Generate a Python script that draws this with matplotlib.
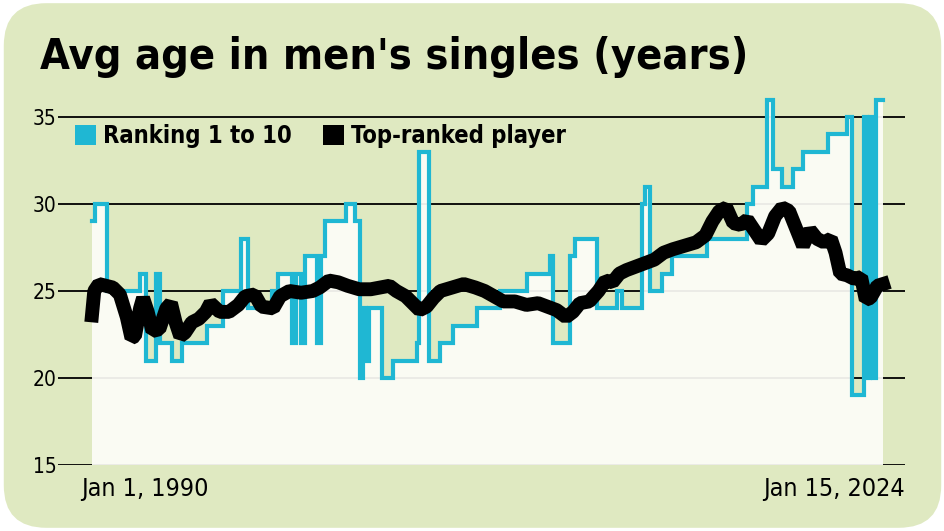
import matplotlib.pyplot as plt
from matplotlib.patches import FancyBboxPatch, Patch

# Ranking 1 to 10: average age, changes (decimal year, age) drawn as steps
top10_year = [1990.00, 1990.13, 1990.65, 1992.07, 1992.32, 1992.75, 1992.93, 1993.44,
              1993.87, 1994.95, 1995.64, 1996.41, 1996.71, 1997.75, 1998.00, 1998.61,
              1998.78, 1999.00, 1999.17, 1999.68, 1999.85, 2000.03, 2000.93, 2001.32,
              2001.53, 2001.66, 2001.79, 2001.92, 2002.48, 2002.95, 2003.98, 2004.07,
              2004.50, 2004.97, 2005.53, 2006.57, 2007.56, 2008.72, 2009.71, 2009.84,
              2010.57, 2010.78, 2011.73, 2012.59, 2012.81, 2013.67, 2013.79, 2014.01,
              2014.53, 2014.96, 2016.46, 2018.18, 2018.44, 2019.04, 2019.30, 2019.69,
              2020.16, 2020.59, 2021.67, 2022.49, 2022.70, 2023.22, 2023.35, 2023.48,
              2023.61, 2023.73, 2024.04]
top10_age = [29, 30, 25, 26, 21, 26, 22, 21,
             22, 23, 25, 28, 24, 25, 26, 22,
             26, 22, 27, 22, 27, 29, 30, 29,
             20, 24, 21, 24, 20, 21, 22, 33,
             21, 22, 23, 24, 25, 26, 27, 22,
             27, 28, 24, 25, 24, 30, 31, 25,
             26, 27, 28, 30, 31, 36, 32, 31,
             32, 33, 34, 35, 19, 35, 20, 35,
             20, 36, 36]

# Top-ranked player age
no1_year = [1990.0, 1990.1, 1990.3, 1990.6, 1990.9, 1991.2, 1991.5, 1991.7, 1991.85, 1992.07,
            1992.2, 1992.4, 1992.6, 1992.9, 1993.2, 1993.4, 1993.6, 1993.8, 1994.0, 1994.3,
            1994.6, 1994.9, 1995.1, 1995.5, 1995.9, 1996.3, 1996.6, 1997.0, 1997.3, 1997.8,
            1998.1, 1998.5, 1999.0, 1999.5, 1999.8, 2000.2, 2000.6, 2001.0, 2001.5, 2002.0,
            2002.4, 2002.8, 2003.1, 2003.5, 2003.8, 2004.1, 2004.4, 2004.7, 2005.0, 2005.5,
            2006.0, 2006.5, 2006.9, 2007.3, 2007.7, 2008.2, 2008.7, 2009.2, 2009.6, 2010.0,
            2010.4, 2010.7, 2011.0, 2011.4, 2011.8, 2012.1, 2012.4, 2012.7, 2013.0, 2013.4,
            2013.8, 2014.2, 2014.6, 2015.0, 2015.5, 2016.0, 2016.4, 2016.7, 2017.0, 2017.3,
            2017.6, 2017.9, 2018.2, 2018.5, 2018.8, 2019.1, 2019.4, 2019.7, 2020.0, 2020.3,
            2020.6, 2020.9, 2021.2, 2021.5, 2021.8, 2022.0, 2022.2, 2022.5, 2022.8, 2023.1,
            2023.3, 2023.5, 2023.8, 2024.04]
no1_age = [23.6, 25.0, 25.4, 25.3, 25.2, 24.8, 23.5, 22.3, 22.4, 24.0,
           24.6, 23.8, 22.7, 22.8, 24.0, 24.3, 23.2, 22.4, 22.6, 23.2,
           23.4, 23.8, 24.3, 23.8, 23.8, 24.2, 24.7, 24.8, 24.1, 24.0,
           24.7, 25.0, 24.9, 25.0, 25.2, 25.6, 25.5, 25.3, 25.1, 25.1,
           25.2, 25.3, 25.0, 24.7, 24.3, 23.9, 24.1, 24.6, 25.0, 25.2,
           25.4, 25.2, 25.0, 24.7, 24.4, 24.4, 24.2, 24.3, 24.1, 23.9,
           23.5, 23.8, 24.3, 24.4, 25.0, 25.6, 25.5, 26.0, 26.2, 26.4,
           26.6, 26.8, 27.2, 27.4, 27.6, 27.8, 28.2, 29.0, 29.6, 29.8,
           28.9, 28.8, 29.1, 28.5, 27.9, 28.3, 29.3, 29.8, 29.6, 28.6,
           27.6, 28.5, 28.0, 27.8, 28.0, 27.2, 26.0, 25.9, 25.7, 25.8,
           24.5, 24.6, 25.3, 25.4]

y_ticks = [15, 20, 25, 30, 35]

bg = '#dfe9c1'
cyan = '#1fb7d3'
plt.rcParams['font.family'] = ['DejaVu Sans']
plt.rcParams['font.stretch'] = 'condensed'

fig = plt.figure(figsize=(9.45, 5.31), dpi=100)
fig.patch.set_facecolor('white')
card = FancyBboxPatch((0.004, 0.006), 0.992, 0.988, boxstyle='round,pad=0,rounding_size=0.045',
                      transform=fig.transFigure, facecolor=bg, edgecolor='none',
                      mutation_aspect=945 / 531, zorder=-10)
fig.patches.append(card)

ax = fig.add_axes([0.0614, 0.1243, 0.8963, 0.7209])
ax.set_facecolor('none')
ax.set_xlim(1988.54, 2024.99)
ax.set_ylim(15, 37)

for v in y_ticks:
    ax.axhline(v, color='black', lw=1.3, zorder=1)

ax.fill_between(top10_year, top10_age, 15, step='post', color='#fdfdf8', alpha=0.93,
                lw=0, zorder=2)
ax.step(top10_year, top10_age, where='post', color=cyan, lw=3.0, zorder=3,
        solid_joinstyle='miter')
ax.plot(no1_year, no1_age, color='black', lw=10, zorder=4,
        solid_joinstyle='bevel', solid_capstyle='projecting')

for s in ax.spines.values():
    s.set_visible(False)
ax.set_yticks(y_ticks)
ax.set_yticklabels([str(v) for v in y_ticks], fontsize=15)
ax.tick_params(axis='y', length=0, pad=1)
ax.set_xticks([])
ax.text(1989.55, 14.3, 'Jan 1, 1990', fontsize=18, ha='left', va='top')
ax.text(2024.99, 14.3, 'Jan 15, 2024', fontsize=18, ha='right', va='top')

fig.text(0.042, 0.87, "Avg age in men's singles (years)", fontsize=31,
         fontweight='bold', ha='left', va='baseline')

handles = [Patch(facecolor=cyan, edgecolor='none', label='Ranking 1 to 10'),
           Patch(facecolor='black', edgecolor='none', label='Top-ranked player')]
ax.legend(handles=handles, loc='upper left', bbox_to_anchor=(0.02, 0.89), ncol=2,
          frameon=False, prop={'size': 17, 'weight': 'bold', 'stretch': 'condensed'},
          handlelength=0.9, handleheight=0.9, handletextpad=0.3, columnspacing=1.3,
          borderaxespad=0, borderpad=0)

fig.savefig('out.png', dpi=100, facecolor=fig.get_facecolor())
